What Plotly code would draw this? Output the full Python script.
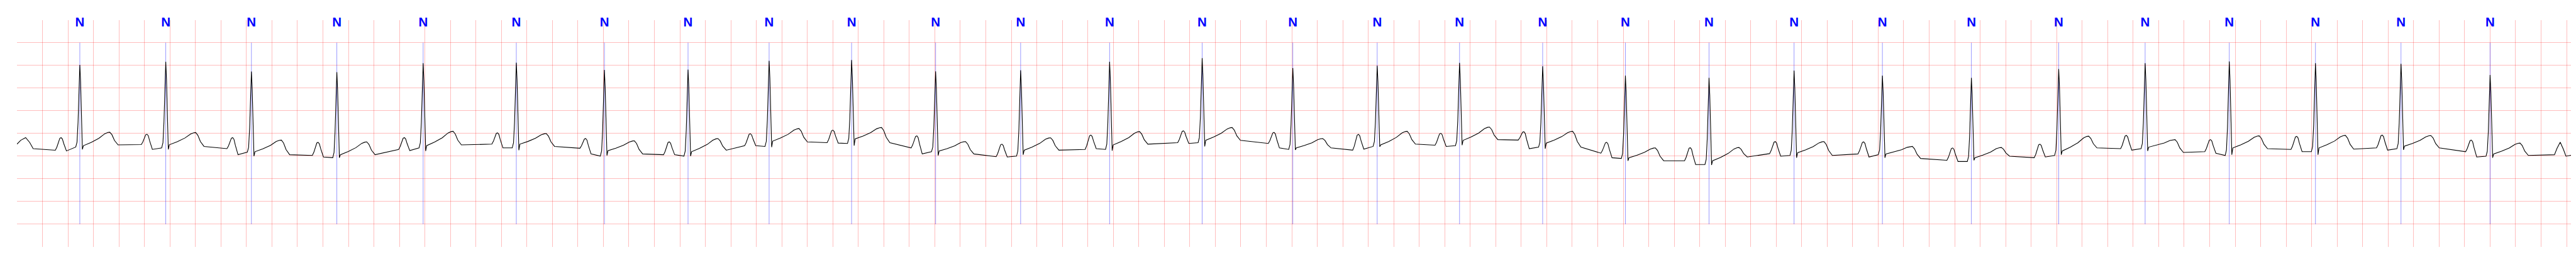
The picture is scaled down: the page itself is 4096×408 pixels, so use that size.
import plotly.graph_objects as go

# ---- data (time in s, amplitude in mV) ----
r_time = [0.493, 1.167, 1.839, 2.509, 3.186, 3.917, 4.608, 5.264, 5.900, 6.547,
          7.206, 7.873, 8.571, 9.297, 10.008, 10.670, 11.316, 11.968, 12.617, 13.273,
          13.940, 14.633, 15.331, 16.016, 16.694, 17.354, 18.030, 18.701, 19.400]
beat_labels = ["N"] * 29
r_amp = [1.508, 1.580, 1.364, 1.351, 1.547, 1.557, 1.397, 1.407, 1.600, 1.617,
         1.368, 1.390, 1.580, 1.660, 1.441, 1.491, 1.554, 1.480, 1.274, 1.224,
         1.384, 1.274, 1.224, 1.421, 1.547, 1.587, 1.547, 1.534, 1.288]
iso_lvl = [-0.370, -0.246, -0.336, -0.485, -0.352, -0.236, -0.326, -0.469, -0.270, -0.203,
           -0.320, -0.512, -0.352, -0.203, -0.220, -0.369, -0.259, -0.146, -0.435, -0.602,
           -0.445, -0.452, -0.592, -0.535, -0.336, -0.402, -0.352, -0.319, -0.402]
p_amp = [-0.093, -0.017, -0.093, -0.196, -0.093, 0.013, -0.113, -0.186, -0.007, 0.073,
         -0.053, -0.236, -0.037, 0.057, 0.023, -0.020, 0.003, 0.037, -0.196, -0.313,
         -0.180, -0.186, -0.319, -0.236, -0.043, -0.136, -0.063, -0.037, -0.146]
pr_after_p = [-0.386, -0.352, -0.469, -0.519, -0.379, -0.319, -0.452, -0.469, -0.269, -0.213,
              -0.452, -0.519, -0.336, -0.220, -0.319, -0.346, -0.286, -0.336, -0.535, -0.685,
              -0.502, -0.519, -0.618, -0.519, -0.369, -0.435, -0.402, -0.369, -0.519]
pr_before_qrs = [-0.300, -0.320, -0.412, -0.535, -0.319, -0.319, -0.500, -0.500, -0.286, -0.220,
                 -0.402, -0.500, -0.352, -0.203, -0.352, -0.286, -0.269, -0.302, -0.552, -0.685,
                 -0.485, -0.469, -0.618, -0.485, -0.336, -0.485, -0.402, -0.336, -0.502]
s_amp = [-0.352, -0.352, -0.502, -0.535, -0.386, -0.369, -0.485, -0.500, -0.302, -0.269,
         -0.485, -0.469, -0.379, -0.286, -0.362, -0.293, -0.259, -0.336, -0.602, -0.695,
         -0.535, -0.535, -0.592, -0.469, -0.386, -0.469, -0.469, -0.362, -0.535]
st_lvl = [-0.270, -0.250, -0.402, -0.469, -0.269, -0.236, -0.379, -0.402, -0.170, -0.120,
          -0.386, -0.369, -0.253, -0.150, -0.319, -0.253, -0.153, -0.213, -0.535, -0.602,
          -0.425, -0.452, -0.535, -0.386, -0.302, -0.319, -0.319, -0.279, -0.452]
t_amp = [0.027, 0.020, -0.146, -0.186, 0.047, -0.003, -0.163, -0.113, 0.106, 0.130,
         -0.180, -0.096, 0.040, 0.130, -0.113, 0.047, 0.140, 0.047, -0.319, -0.309,
         -0.180, -0.286, -0.309, -0.060, -0.136, -0.053, -0.043, -0.047, -0.213]
t_end = [-0.253, -0.286, -0.469, -0.469, -0.253, -0.286, -0.452, -0.369, -0.186, -0.203,
         -0.452, -0.369, -0.236, -0.153, -0.319, -0.236, -0.136, -0.302, -0.602, -0.519,
         -0.485, -0.552, -0.502, -0.319, -0.419, -0.336, -0.346, -0.319, -0.485]
# trace before the first beat and after the last one
lead_t = [0.000, 0.030, 0.068, 0.100, 0.127]
lead_v = [-0.236, -0.150, -0.093, -0.200, -0.336]
tail_t = [19.905, 19.925, 19.950, 19.975, 19.995, 20.060]
tail_v = [-0.469, -0.330, -0.193, -0.350, -0.502, -0.469]

# ---- build the trace from the landmarks ----
xs, ys = list(lead_t), list(lead_v)
for i, r in enumerate(r_time):
    iso, p, pa, pb = iso_lvl[i], p_amp[i], pr_after_p[i], pr_before_qrs[i]
    R, S, st, T, te = r_amp[i], s_amp[i], st_lvl[i], t_amp[i], t_end[i]
    seg = [
        (-0.192, iso), (-0.180, iso + 0.25 * (p - iso)), (-0.168, iso + 0.65 * (p - iso)),
        (-0.157, iso + 0.95 * (p - iso)), (-0.147, p), (-0.137, pa + 0.9 * (p - pa)),
        (-0.126, pa + 0.55 * (p - pa)), (-0.115, pa + 0.2 * (p - pa)),
        (-0.105, pa), (-0.032, pb),
        (-0.022, pb + 0.06 * (R - pb)), (-0.014, pb + 0.3 * (R - pb)),
        (-0.006, pb + 0.8 * (R - pb)), (0.0, R),
        (0.006, S + 0.8 * (R - S)), (0.013, S + 0.3 * (R - S)), (0.020, S),
        (0.028, st), (0.090, st + 0.25 * (T - st)), (0.150, st + 0.55 * (T - st)),
        (0.195, st + 0.88 * (T - st)), (0.220, st + 0.98 * (T - st)), (0.235, T),
        (0.252, te + 0.8 * (T - te)), (0.272, te + 0.35 * (T - te)), (0.300, te),
    ]
    for dt, v in seg:
        xs.append(r + dt)
        ys.append(v)
xs += tail_t
ys += tail_v

# annotation markers
mx, my = [], []
for r in r_time:
    mx += [r, r, None]
    my += [2.0, -2.0, None]

fig = go.Figure()
fig.add_trace(go.Scatter(x=mx, y=my, mode="lines",
                         line=dict(color="rgba(0,0,255,0.5)", width=0.8),
                         hoverinfo="skip", showlegend=False))
fig.add_trace(go.Scatter(x=xs, y=ys, mode="lines",
                         line=dict(color="black", width=1.1),
                         showlegend=False))
fig.add_trace(go.Scatter(x=r_time, y=[2.43] * len(r_time), mode="text",
                         text=["<b>%s</b>" % s for s in beat_labels],
                         textposition="middle center",
                         textfont=dict(color="#0000ff", size=20.5,
                                       family="Liberation Sans, Arial, sans-serif"),
                         showlegend=False, cliponaxis=False))

fig.update_layout(
    width=4096, height=408,
    margin=dict(l=19, r=10, t=24, b=24),
    paper_bgcolor="white", plot_bgcolor="white",
)
fig.update_xaxes(range=[0, 20.064], tick0=0, dtick=0.2, showgrid=True,
                 gridcolor="rgba(255,0,0,0.26)", gridwidth=1.2,
                 showticklabels=False, ticks="", zeroline=False, showline=False)
fig.update_yaxes(range=[-2.5, 2.495], tick0=0, dtick=0.5, showgrid=True,
                 gridcolor="rgba(255,0,0,0.26)", gridwidth=1.2,
                 showticklabels=False, ticks="", zeroline=False, showline=False)

fig.write_html("out.html")
